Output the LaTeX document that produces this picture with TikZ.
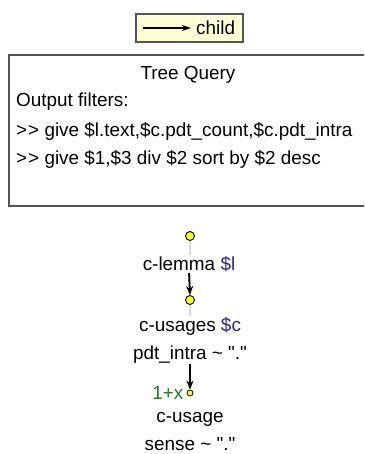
\documentclass[tikz,border=0pt]{standalone}
\usepackage{fontspec}
\setmainfont{Liberation Sans}[Ligatures=TeXOff]
\usetikzlibrary{arrows.meta}
\definecolor{legendfill}{HTML}{FFFFD4}
\definecolor{framegrey}{HTML}{555555}
\definecolor{varblue}{HTML}{2424A8}
\definecolor{occgreen}{HTML}{1E7A1E}
\definecolor{edgegrey}{HTML}{DADADA}
\definecolor{nodeyellow}{HTML}{FFFF00}
\tikzset{
  txt/.style={font=\fontsize{18.9}{28}\selectfont, inner sep=0pt},
  lbl/.style={txt, fill=white, align=center, inner sep=1pt},
  dot/.style={circle, draw=black, line width=0.9pt, fill=nodeyellow, minimum size=9pt, inner sep=0pt},
  smalldot/.style={circle, draw=black, line width=0.8pt, fill=nodeyellow, minimum size=6pt, inner sep=0pt},
  greyedge/.style={draw=edgegrey, line width=1.6pt},
  childarrow/.style={draw=black, line width=1.8pt, -{Stealth[length=9pt,width=7pt]}},
  legendbox/.style={draw=framegrey, line width=1.4pt, fill=legendfill},
  querybox/.style={draw=framegrey, line width=1.3pt}
}
\newcommand{\gtgt}{>\kern1pt>}
\begin{document}
\begin{tikzpicture}[x=1pt,y=-1pt]
  \useasboundingbox (0,0) rectangle (364,454);
  \clip (0,0) rectangle (364,454);

  % legend
  \draw[legendbox] (136,14) rectangle (243,42);
  \coordinate (legA) at (143,28);
  \coordinate (legB) at (191,28);
  \draw[line width=1.2pt, -{Stealth[length=9pt,width=6pt]}] (legA) -- (legB);
  \node[txt, anchor=west] (legtxt) at (196,28) {child};

  % query box
  \draw[querybox] (9,55) rectangle (368,206);
  \node[txt] (title) at (188,75) {Tree Query};
  \node[txt, anchor=west] (filters) at (16,102) {Output filters:};
  \node[txt, anchor=west] (give1) at (16,131) {\gtgt{} give \$l.text,\$c.pdt\_count,\$c.pdt\_intra};
  \node[txt, anchor=west] (give2) at (16,159) {\gtgt{} give \$1,\$3 div \$2 sort by \$2 desc};

  % tree nodes
  \node[dot] (n1) at (190,236) {};
  \node[dot] (n2) at (190,300) {};
  \node[smalldot] (n3) at (190,393) {};
  \draw[greyedge] (n1) -- (n2);
  \draw[greyedge] (n2) -- (n3);

  \node[lbl] (l1) at (189,264) {c-lemma \textcolor{varblue}{\$l}};
  \node[lbl] (l2) at (190,340) {c-usages \textcolor{varblue}{\$c}\\pdt\_intra \textasciitilde{} "."};
  \node[txt, align=center] (l3) at (190,432) {c-usage\\sense \textasciitilde{} "."};
  \node[txt, text=occgreen, anchor=east] (occ) at ([xshift=-3pt]n3.west) {1+x};

  \draw[childarrow] (l1.south) -- (n2.north);
  \draw[childarrow] (l2.south) -- (n3.north);
\end{tikzpicture}
\end{document}
